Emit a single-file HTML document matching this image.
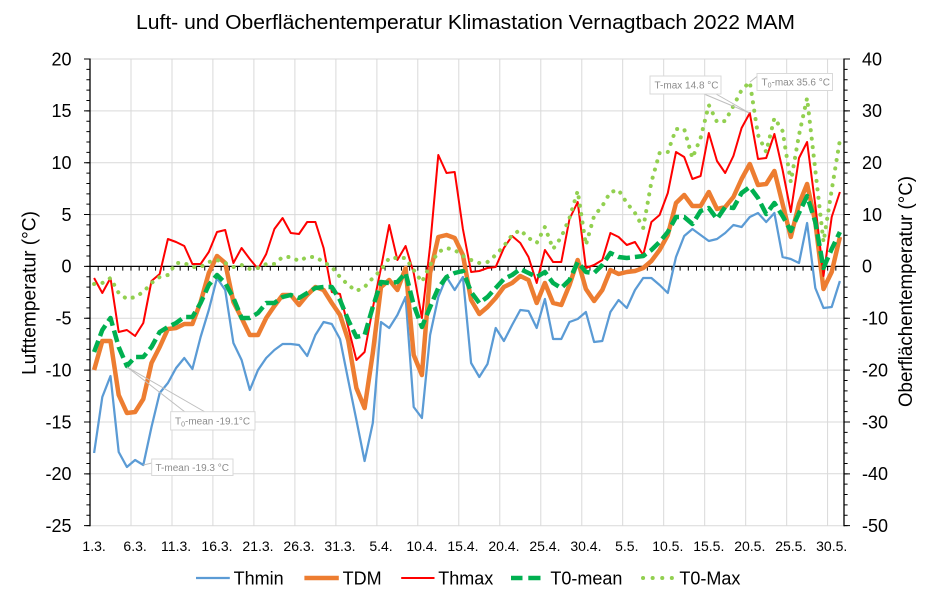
<!DOCTYPE html>
<html><head><meta charset="utf-8"><style>
html,body{margin:0;padding:0;background:#fff;}
svg{display:block;font-family:"Liberation Sans",Arial,sans-serif;}
</style></head><body>
<svg width="934" height="603" viewBox="0 0 934 603" xmlns="http://www.w3.org/2000/svg">
<rect width="934" height="603" fill="#fff"/>
<text x="465.5" y="29" font-size="20" text-anchor="middle" textLength="659" lengthAdjust="spacingAndGlyphs" fill="#000">Luft- und Oberflächentemperatur Klimastation Vernagtbach 2022 MAM</text>

<!-- gridlines -->
<g stroke="#d9d9d9" stroke-width="1">
<line x1="90" y1="59" x2="844" y2="59"/><line x1="90" y1="110.9" x2="844" y2="110.9"/><line x1="90" y1="162.7" x2="844" y2="162.7"/><line x1="90" y1="214.6" x2="844" y2="214.6"/><line x1="90" y1="318.3" x2="844" y2="318.3"/><line x1="90" y1="370.1" x2="844" y2="370.1"/><line x1="90" y1="422" x2="844" y2="422"/><line x1="90" y1="473.8" x2="844" y2="473.8"/><line x1="90" y1="525.7" x2="844" y2="525.7"/>
<line x1="131" y1="59" x2="131" y2="525.7"/><line x1="172" y1="59" x2="172" y2="525.7"/><line x1="212.9" y1="59" x2="212.9" y2="525.7"/><line x1="253.9" y1="59" x2="253.9" y2="525.7"/><line x1="294.9" y1="59" x2="294.9" y2="525.7"/><line x1="335.9" y1="59" x2="335.9" y2="525.7"/><line x1="376.9" y1="59" x2="376.9" y2="525.7"/><line x1="417.8" y1="59" x2="417.8" y2="525.7"/><line x1="458.8" y1="59" x2="458.8" y2="525.7"/><line x1="499.8" y1="59" x2="499.8" y2="525.7"/><line x1="540.8" y1="59" x2="540.8" y2="525.7"/><line x1="581.8" y1="59" x2="581.8" y2="525.7"/><line x1="622.7" y1="59" x2="622.7" y2="525.7"/><line x1="663.7" y1="59" x2="663.7" y2="525.7"/><line x1="704.7" y1="59" x2="704.7" y2="525.7"/><line x1="745.7" y1="59" x2="745.7" y2="525.7"/><line x1="786.7" y1="59" x2="786.7" y2="525.7"/><line x1="827.6" y1="59" x2="827.6" y2="525.7"/>
</g>

<!-- axes -->
<g stroke="#000" fill="none">
<line x1="90" y1="58.5" x2="90" y2="526.2" stroke-width="1.3"/>
<line x1="844" y1="58.5" x2="844" y2="526.2" stroke-width="1.3"/>
<line x1="90" y1="266.4" x2="844" y2="266.4" stroke-width="1.2"/>
<!-- left ticks -->
<line x1="88.2" y1="58.5" x2="88.2" y2="526.5" stroke-width="3.6" stroke-dasharray="1 9.3704"/>
<line x1="87" y1="58.5" x2="87" y2="526.5" stroke-width="6" stroke-dasharray="1 50.852"/>
<!-- right ticks -->
<line x1="845.8" y1="58.5" x2="845.8" y2="526.5" stroke-width="3.6" stroke-dasharray="1 9.3704"/>
<line x1="847" y1="58.5" x2="847" y2="526.5" stroke-width="6" stroke-dasharray="1 50.852"/>
<!-- category ticks -->
<line x1="97.7" y1="268.5" x2="836.5" y2="268.5" stroke-width="4.2" stroke-dasharray="1 7.196"/>
</g>

<!-- left labels -->
<g font-size="18" fill="#000" text-anchor="end">
<text x="71.5" y="65.3">20</text><text x="71.5" y="117.2">15</text><text x="71.5" y="169">10</text><text x="71.5" y="220.9">5</text><text x="71.5" y="272.7">0</text><text x="71.5" y="324.6">-5</text><text x="71.5" y="376.4">-10</text><text x="71.5" y="428.3">-15</text><text x="71.5" y="480.1">-20</text><text x="71.5" y="532">-25</text>
</g>
<!-- right labels -->
<g font-size="18" fill="#000" text-anchor="start">
<text x="862" y="65.3">40</text><text x="862" y="117.2">30</text><text x="862" y="169">20</text><text x="862" y="220.9">10</text><text x="862" y="272.7">0</text><text x="862" y="324.6">-10</text><text x="862" y="376.4">-20</text><text x="862" y="428.3">-30</text><text x="862" y="480.1">-40</text><text x="862" y="532">-50</text>
</g>
<!-- x labels -->
<g font-size="14" fill="#000" text-anchor="middle">
<text x="94.1" y="551">1.3.</text><text x="135.1" y="551">6.3.</text><text x="176.1" y="551">11.3.</text><text x="217" y="551">16.3.</text><text x="258" y="551">21.3.</text><text x="299" y="551">26.3.</text><text x="340" y="551">31.3.</text><text x="381" y="551">5.4.</text><text x="421.9" y="551">10.4.</text><text x="462.9" y="551">15.4.</text><text x="503.9" y="551">20.4.</text><text x="544.9" y="551">25.4.</text><text x="585.9" y="551">30.4.</text><text x="626.8" y="551">5.5.</text><text x="667.8" y="551">10.5.</text><text x="708.8" y="551">15.5.</text><text x="749.8" y="551">20.5.</text><text x="790.8" y="551">25.5.</text><text x="831.7" y="551">30.5.</text>
</g>

<!-- axis titles -->
<text transform="translate(35.5,293) rotate(-90)" font-size="19" text-anchor="middle" textLength="164" lengthAdjust="spacingAndGlyphs" fill="#000">Lufttemperatur (°C)</text>
<text transform="translate(912,291.5) rotate(-90)" font-size="19" text-anchor="middle" textLength="231" lengthAdjust="spacingAndGlyphs" fill="#000">Oberflächentemperatur (°C)</text>

<!-- series -->
<g fill="none" stroke-linejoin="round">
<polyline stroke="#5b9bd5" stroke-width="2.25" points="94.1,453 102.3,397 110.5,376 118.7,452 126.9,467 135.1,460 143.3,465 151.5,427 159.7,393 167.9,383 176.1,368 184.3,358 192.4,369 200.6,337 208.8,310 217.0,278 225.2,290 233.4,343 241.6,360 249.8,390 258.0,370 266.2,358 274.4,350 282.6,344 290.8,344 299.0,345 307.2,356 315.4,335 323.6,322 331.8,324 340.0,339 348.2,380 356.4,420 364.6,461 372.8,423 381.0,322 389.2,328 397.4,315 405.6,297 413.7,407 421.9,418 430.1,335 438.3,297 446.5,277 454.7,290 462.9,277 471.1,363 479.3,377 487.5,364 495.7,328 503.9,341 512.1,325 520.3,310 528.5,311 536.7,328 544.9,299 553.1,339 561.3,339 569.5,322 577.7,319 585.9,312 594.1,342 602.3,341 610.4,312 618.6,300 626.8,308 635.0,290 643.2,278 651.4,278 659.6,285 667.8,293 676.0,257 684.2,236 692.4,229 700.6,235 708.8,241 717.0,239 725.2,233 733.4,225 741.6,227 749.8,217 758.0,213 766.2,222 774.4,213 782.6,257 790.8,259 799.0,263 807.1,223 815.3,288 823.5,308 831.7,307 839.9,281"/>
<polyline stroke="#ed7d31" stroke-width="4.5" points="94.1,370 102.3,341 110.5,341 118.7,395 126.9,413 135.1,412 143.3,399 151.5,363 159.7,347 167.9,329 176.1,328 184.3,324 192.4,324 200.6,302 208.8,273 217.0,256 225.2,263 233.4,302 241.6,318 249.8,335 258.0,335 266.2,318 274.4,306 282.6,295 290.8,295 299.0,305 307.2,295 315.4,287 323.6,290 331.8,303 340.0,315 348.2,340 356.4,388 364.6,408 372.8,353 381.0,287 389.2,280 397.4,290 405.6,268 413.7,355 421.9,375 430.1,273 438.3,237 446.5,235 454.7,238 462.9,255 471.1,300 479.3,314 487.5,307 495.7,298 503.9,287 512.1,283 520.3,276 528.5,280 536.7,303 544.9,283 553.1,303 561.3,305 569.5,285 577.7,260 585.9,289 594.1,301 602.3,290 610.4,270 618.6,274 626.8,272 635.0,271 643.2,268 651.4,261 659.6,250 667.8,235 676.0,203 684.2,195 692.4,206 700.6,206 708.8,192 717.0,209 725.2,207 733.4,197 741.6,179 749.8,164 758.0,185 766.2,184 774.4,171 782.6,204 790.8,237 799.0,204 807.1,184 815.3,222 823.5,289 831.7,272 839.9,237"/>
<polyline stroke="#ff0000" stroke-width="2" points="94.1,278 102.3,293 110.5,278 118.7,332 126.9,330 135.1,336 143.3,323 151.5,281 159.7,274 167.9,239 176.1,242 184.3,246 192.4,264 200.6,264 208.8,252 217.0,232 225.2,230 233.4,263 241.6,248 249.8,259 258.0,269 266.2,254 274.4,229 282.6,218 290.8,233 299.0,234 307.2,222 315.4,222 323.6,248 331.8,292 340.0,294 348.2,327 356.4,360 364.6,352 372.8,308 381.0,268 389.2,225 397.4,260 405.6,246 413.7,273 421.9,318 430.1,246 438.3,155 446.5,173 454.7,172 462.9,229 471.1,272 479.3,271 487.5,268 495.7,267 503.9,248 512.1,236 520.3,243 528.5,257 536.7,283 544.9,250 553.1,262 561.3,262 569.5,219 577.7,202 585.9,268 594.1,265 602.3,260 610.4,233 618.6,237 626.8,245 635.0,242 643.2,255 651.4,222 659.6,215 667.8,193 676.0,152 684.2,157 692.4,179 700.6,176 708.8,133 717.0,161 725.2,173 733.4,156 741.6,128 749.8,113 758.0,159 766.2,158 774.4,134 782.6,170 790.8,212 799.0,158 807.1,142 815.3,205 823.5,276 831.7,217 839.9,192"/>
<polyline stroke="#00b050" stroke-width="4.5" stroke-dasharray="12 5" points="94.1,352 102.3,330 110.5,318 118.7,347 126.9,366 135.1,357 143.3,357 151.5,347 159.7,332 167.9,327 176.1,323 184.3,317 192.4,317 200.6,303 208.8,285 217.0,275 225.2,283 233.4,298 241.6,318 249.8,318 258.0,313 266.2,303 274.4,303 282.6,297 290.8,295 299.0,298 307.2,293 315.4,288 323.6,287 331.8,287 340.0,300 348.2,320 356.4,337 364.6,335 372.8,307 381.0,282 389.2,283 397.4,282 405.6,273 413.7,305 421.9,327 430.1,307 438.3,288 446.5,277 454.7,273 462.9,271 471.1,292 479.3,303 487.5,297 495.7,288 503.9,279 512.1,275 520.3,269 528.5,273 536.7,277 544.9,272 553.1,283 561.3,288 569.5,280 577.7,262 585.9,272 594.1,273 602.3,265 610.4,253 618.6,257 626.8,258 635.0,257 643.2,256 651.4,250 659.6,242 667.8,232 676.0,217 684.2,217 692.4,224 700.6,211 708.8,208 717.0,219 725.2,207 733.4,208 741.6,193 749.8,187 758.0,198 766.2,214 774.4,203 782.6,216 790.8,231 799.0,213 807.1,196 815.3,222 823.5,268 831.7,249 839.9,232"/>
<polyline stroke="#92d050" stroke-width="4" stroke-linecap="round" stroke-dasharray="0.1 8.4" points="94.1,284 102.3,283 110.5,278 118.7,293 126.9,299 135.1,297 143.3,292 151.5,283 159.7,277 167.9,275 176.1,263 184.3,263 192.4,267 200.6,267 208.8,262 217.0,260 225.2,263 233.4,267 241.6,265 249.8,269 258.0,268 266.2,264 274.4,264 282.6,257 290.8,257 299.0,261 307.2,257 315.4,257 323.6,262 331.8,267 340.0,277 348.2,285 356.4,291 364.6,287 372.8,278 381.0,270 389.2,258 397.4,258 405.6,258 413.7,270 421.9,282 430.1,265 438.3,252 446.5,248 454.7,250 462.9,256 471.1,260 479.3,263 487.5,262 495.7,255 503.9,246 512.1,235 520.3,230 528.5,238 536.7,243 544.9,227 553.1,249 561.3,237 569.5,218 577.7,191 585.9,245 594.1,216 602.3,206 610.4,192 618.6,190 626.8,203 635.0,213 643.2,228 651.4,182 659.6,153 667.8,152 676.0,129 684.2,129 692.4,158 700.6,138 708.8,105 717.0,122 725.2,121 733.4,106 741.6,90 749.8,82 758.0,135 766.2,152 774.4,118 782.6,131 790.8,182 799.0,135 807.1,98 815.3,170 823.5,242 831.7,190 839.9,140"/>
</g>

<!-- annotations -->
<g stroke="#bfbfbf" stroke-width="1" fill="none">
<line x1="143.3" y1="465" x2="152" y2="463"/>
<line x1="127" y1="367" x2="185" y2="412"/>
<line x1="127" y1="367" x2="205" y2="412"/>
<line x1="749.5" y1="113" x2="704" y2="94"/>
<line x1="749.5" y1="113" x2="716" y2="94"/>
<line x1="750" y1="82" x2="757.5" y2="76"/>
</g>
<g fill="#fff" stroke="#d9d9d9" stroke-width="1">
<rect x="151.7" y="459" width="81.3" height="16.5"/>
<rect x="170.7" y="411.7" width="84.3" height="18.3"/>
<rect x="650" y="76" width="71" height="18"/>
<rect x="757" y="73.5" width="75.5" height="17"/>
</g>
<g font-size="10" fill="#8c8c8c">
<text x="155.5" y="471">T-mean -19.3 °C</text>
<text x="175" y="424.5">T<tspan font-size="7" dy="2">0</tspan><tspan dy="-2">-mean -19.1°C</tspan></text>
<text x="654.5" y="88.5">T-max 14.8 °C</text>
<text x="761.5" y="85.5">T<tspan font-size="7" dy="2">0</tspan><tspan dy="-2">-max 35.6 °C</tspan></text>
</g>

<!-- legend -->
<g fill="none">
<line x1="196" y1="578" x2="229.8" y2="578" stroke="#5b9bd5" stroke-width="2.25"/>
<line x1="304.4" y1="578" x2="338.8" y2="578" stroke="#ed7d31" stroke-width="4.5"/>
<line x1="401.2" y1="578" x2="434.5" y2="578" stroke="#ff0000" stroke-width="2"/>
<line x1="511" y1="578" x2="522.5" y2="578" stroke="#00b050" stroke-width="4.5"/>
<line x1="528.3" y1="578" x2="540.5" y2="578" stroke="#00b050" stroke-width="4.5"/>
<line x1="643" y1="578" x2="672" y2="578" stroke="#92d050" stroke-width="4" stroke-linecap="round" stroke-dasharray="0.1 9.5"/>
</g>
<g font-size="18" fill="#000">
<text x="233.6" y="584.5">Thmin</text>
<text x="342.6" y="584.5">TDM</text>
<text x="438.3" y="584.5">Thmax</text>
<text x="550.4" y="584.5">T0-mean</text>
<text x="679.4" y="584.5">T0-Max</text>
</g>
</svg>
</body></html>
